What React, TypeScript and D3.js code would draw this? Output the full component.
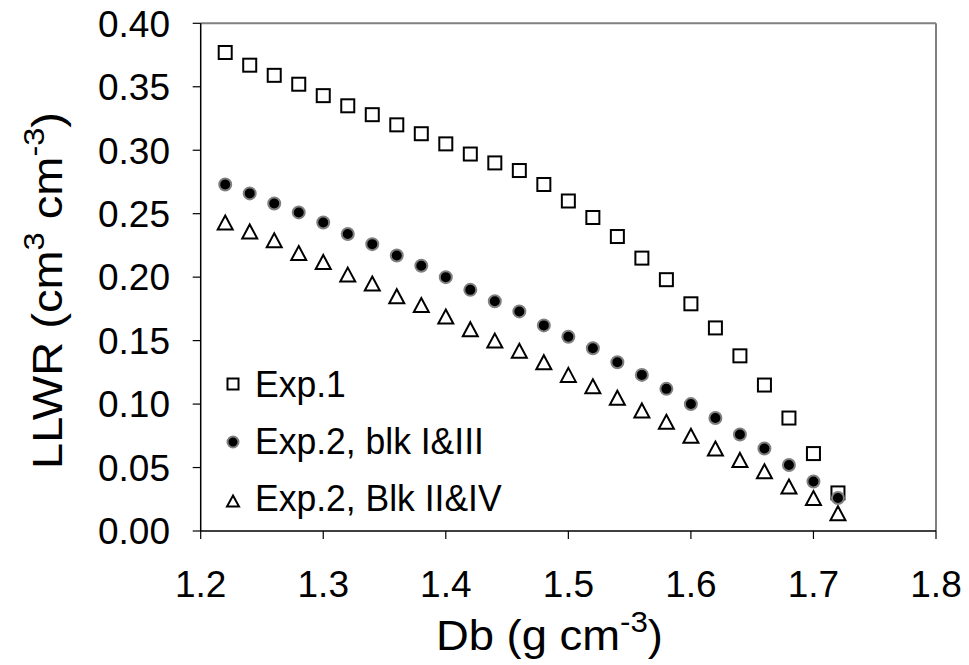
import React from "react";
import * as d3 from "d3";

const dbValues = [1.22, 1.24, 1.26, 1.28, 1.30, 1.32, 1.34, 1.36, 1.38, 1.40, 1.42, 1.44, 1.46, 1.48, 1.50, 1.52, 1.54, 1.56, 1.58, 1.60, 1.62, 1.64, 1.66, 1.68, 1.70, 1.72];
const exp1 = [0.377, 0.367, 0.359, 0.352, 0.343, 0.335, 0.328, 0.320, 0.313, 0.305, 0.297, 0.290, 0.284, 0.273, 0.260, 0.247, 0.232, 0.215, 0.198, 0.179, 0.160, 0.138, 0.115, 0.089, 0.061, 0.030];
const exp2blkI_III = [0.273, 0.266, 0.258, 0.251, 0.243, 0.234, 0.226, 0.217, 0.209, 0.200, 0.190, 0.181, 0.173, 0.162, 0.153, 0.144, 0.133, 0.123, 0.112, 0.100, 0.089, 0.076, 0.065, 0.052, 0.039, 0.026];
const exp2blkII_IV = [0.243, 0.236, 0.229, 0.219, 0.212, 0.202, 0.195, 0.185, 0.178, 0.169, 0.159, 0.150, 0.142, 0.133, 0.123, 0.114, 0.105, 0.095, 0.086, 0.075, 0.065, 0.056, 0.047, 0.035, 0.026, 0.014];
const xTicks = [1.2, 1.3, 1.4, 1.5, 1.6, 1.7, 1.8];
const yTicks = [0, 0.05, 0.1, 0.15, 0.2, 0.25, 0.3, 0.35, 0.4];
const legendLabels = ["Exp.1", "Exp.2, blk I&III", "Exp.2, Blk II&IV"];

const FONT = "'Liberation Sans', Arial, sans-serif";

function Square({ cx, cy, s }: { cx: number; cy: number; s: number }) {
  return <rect x={cx - s / 2} y={cy - s / 2} width={s} height={s} fill="#fff" stroke="#000" strokeWidth={2} />;
}
function Dot({ cx, cy, r }: { cx: number; cy: number; r: number }) {
  return <circle cx={cx} cy={cy} r={r} fill="#000" stroke="#808080" strokeWidth={2} />;
}
function Tri({ cx, cy, w, h }: { cx: number; cy: number; w: number; h: number }) {
  const p = `${cx},${cy - h / 2} ${cx + w / 2},${cy + h / 2} ${cx - w / 2},${cy + h / 2}`;
  return <polygon points={p} fill="#fff" stroke="#000" strokeWidth={2} strokeLinejoin="miter" />;
}

export default function App() {
  const W = 969, H = 665;
  const left = 200.7, right = 936, top = 23.3, bottom = 531;
  const x = d3.scaleLinear().domain([1.2, 1.8]).range([left, right]);
  const y = d3.scaleLinear().domain([0, 0.4]).range([bottom, top]);

  return (
    <svg width={W} height={H} style={{ position: "absolute", left: 0, top: 0, background: "#fff" }} fontFamily={FONT}>
      <rect x={0} y={0} width={W} height={H} fill="#fff" />
      {/* frame */}
      <line x1={left} y1={top} x2={right} y2={top} stroke="#808080" strokeWidth={2} />
      <line x1={right} y1={top} x2={right} y2={bottom} stroke="#808080" strokeWidth={2} />
      <line x1={left} y1={top} x2={left} y2={bottom} stroke="#000" strokeWidth={1.5} />
      <line x1={left} y1={bottom} x2={right} y2={bottom} stroke="#000" strokeWidth={1.5} />
      {/* y ticks */}
      {yTicks.map((t) => (
        <g key={"y" + t}>
          <line x1={left - 8} x2={left} y1={y(t)} y2={y(t)} stroke="#000" strokeWidth={1.2} />
          <text x={170} y={y(t)} dy="0.36em" textAnchor="end" fontSize={37} fill="#000">
            {d3.format(".2f")(t)}
          </text>
        </g>
      ))}
      {/* x ticks */}
      {xTicks.map((t) => (
        <g key={"x" + t}>
          <line x1={x(t)} x2={x(t)} y1={bottom} y2={bottom + 8} stroke="#000" strokeWidth={1.2} />
          <text x={x(t)} y={597} textAnchor="middle" fontSize={37} fill="#000">
            {d3.format(".1f")(t)}
          </text>
        </g>
      ))}
      {/* axis titles */}
      <text transform="translate(436,650) scale(1.08,1)" fontSize={42} fill="#000">
        Db (g cm<tspan dy={-18} fontSize={29}>-3</tspan><tspan dy={18}>)</tspan>
      </text>
      <text transform="translate(62,469) rotate(-90) scale(1.12,1)" fontSize={42} fill="#000">
        LLWR (cm<tspan dy={-18} fontSize={29}>3</tspan><tspan dy={18}> cm</tspan><tspan dy={-18} fontSize={29}>-3</tspan><tspan dy={18}>)</tspan>
      </text>
      {/* data */}
      {dbValues.map((d, i) => (
        <Square key={"s" + i} cx={x(d)} cy={y(exp1[i])} s={13} />
      ))}
      {dbValues.map((d, i) => (
        <Tri key={"t" + i} cx={x(d)} cy={y(exp2blkII_IV[i])} w={15} h={14} />
      ))}
      {dbValues.map((d, i) => (
        <Dot key={"c" + i} cx={x(d)} cy={y(exp2blkI_III[i])} r={6} />
      ))}
      {/* legend */}
      <Square cx={233} cy={384} s={11} />
      <Dot cx={233} cy={442} r={5.5} />
      <Tri cx={233} cy={501} w={12} h={11} />
      {legendLabels.map((l, i) => (
        <text key={l} transform={`translate(255,${397 + i * 57}) scale(0.96,1)`} fontSize={37} fill="#000">{l}</text>
      ))}
    </svg>
  );
}
